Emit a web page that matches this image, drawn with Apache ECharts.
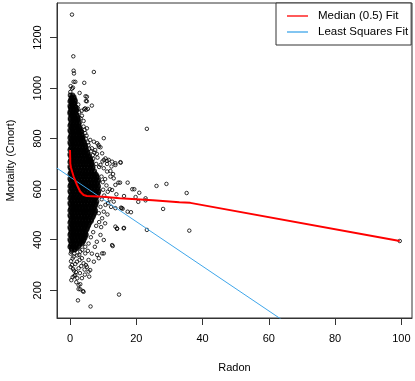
<!DOCTYPE html>
<html>
<head>
<meta charset="utf-8">
<script src="https://cdn.jsdelivr.net/npm/echarts@6/dist/echarts.min.js"></script>
<style>html,body{margin:0;padding:0;background:#fff}#c{width:415px;height:381px}</style>
</head>
<body>
<div id="c"></div>
<script>
// Dense core of the cloud: one mortality level per row, radon values read across it
const coreMort = [972,960,948,936,924,912,900,888,876,864,852,840,828,816,804,792,780,768,756,744,732,720,708,696,684,672,660,648,636,624,612,600,588,576,564,552,540,528,516,504,492,480,468,456,444,432,420,408,396,384,372,360];
const coreRadon = [
[0.1,0.8],[0.4,1.2],[0.0,0.8,1.6],[0.5,1.3],[0.1,0.9,1.8],[0.3,1.2,2.0],[0.0,0.8,1.7],[0.5,1.3,2.3],
[0.1,0.9,1.8,2.5],[0.4,1.2,2.1,2.8],[0.0,0.8,1.7,2.6],[0.5,1.3,2.2,3.0],[0.1,0.9,1.8,2.6,3.4],
[0.4,1.2,2.1,3.0,3.6],[0.0,0.8,1.7,2.5,3.3,3.9],[0.5,1.3,2.2,3.1,4.0],[0.1,0.9,1.8,2.6,3.5,4.4],
[0.4,1.2,2.1,3.0,3.9,4.7],[0.0,0.8,1.7,2.5,3.4,4.3,5.0],[0.5,1.3,2.2,3.1,4.0,4.8,5.4],
[0.1,0.9,1.8,2.6,3.5,4.4,5.2,5.8],[0.4,1.2,2.1,3.0,3.9,4.7,5.6,6.2],[0.0,0.8,1.7,2.5,3.4,4.3,5.1,6.0,6.6],
[0.5,1.3,2.2,3.1,4.0,4.8,5.7,6.5],[0.1,0.9,1.8,2.6,3.5,4.4,5.2,6.1,6.9],[0.4,1.2,2.1,3.0,3.9,4.7,5.6,6.5,7.4],
[0.0,0.8,1.7,2.5,3.4,4.3,5.1,6.0,6.9,7.8],[0.5,1.3,2.2,3.1,4.0,4.8,5.7,6.6,7.4,8.2],
[0.1,0.9,1.8,2.6,3.5,4.4,5.2,6.1,7.0,7.8,8.6],[0.4,1.2,2.1,3.0,3.9,4.7,5.6,6.5,7.3,8.2],
[0.0,0.8,1.7,2.5,3.4,4.3,5.1,6.0,6.9,7.7,8.6],[0.5,1.3,2.2,3.1,4.0,4.8,5.7,6.6,7.4,8.3],
[0.1,0.9,1.8,2.6,3.5,4.4,5.2,6.1,7.0,7.8,8.6],[0.4,1.2,2.1,3.0,3.9,4.7,5.6,6.5,7.3,8.2],
[0.0,0.8,1.7,2.5,3.4,4.3,5.1,6.0,6.9,7.7],[0.5,1.3,2.2,3.1,4.0,4.8,5.7,6.6,7.4,8.1],
[0.1,0.9,1.8,2.6,3.5,4.4,5.2,6.1,7.0,7.8],[0.4,1.2,2.1,3.0,3.9,4.7,5.6,6.5,7.3],
[0.0,0.8,1.7,2.5,3.4,4.3,5.1,6.0,6.9,7.7],[0.5,1.3,2.2,3.1,4.0,4.8,5.7,6.6,7.4],
[0.1,0.9,1.8,2.6,3.5,4.4,5.2,6.1,7.0],[0.4,1.2,2.1,3.0,3.9,4.7,5.6,6.5],
[0.0,0.8,1.7,2.5,3.4,4.3,5.1,6.0],[0.5,1.3,2.2,3.1,4.0,4.8,5.6],[0.1,0.9,1.8,2.6,3.5,4.4,5.2],
[0.4,1.2,2.1,3.0,3.9,4.7],[0.0,0.8,1.7,2.5,3.4,4.3,4.9],[0.5,1.3,2.2,3.1,4.0,4.5],
[0.1,0.9,1.8,2.6,3.5,4.1],[0.4,1.2,2.1,3.0,3.6],[0.0,0.8,1.7,2.6],[0.5,1.4]
];
// Second, in-between rows of the dense core
const coreMort2 = [966,954,942,930,918,906,894,882,870,858,846,834,822,810,798,786,774,762,750,738,726,714,702,690,678,666,654,642,630,618,606,594,582,570,558,546,534,522,510,498,486,474,462,450,438,426,414,402,390,378,366];
const coreRadon2 = [
[0.5,1.2],[0.2,0.9,1.5],[0.4,1.2],[0.0,0.7,1.5],[0.3,1.1,1.9],[0.0,0.8,1.6],[0.4,1.2,2.0],[0.1,0.9,1.7,2.4],
[0.5,1.3,2.2],[0.2,1.0,1.9,2.7],[0.4,1.2,2.1,2.9],[0.0,0.8,1.7,2.6,3.2],[0.5,1.3,2.2,3.0],
[0.2,1.0,1.9,2.8,3.6],[0.4,1.2,2.1,3.0,3.8],[0.0,0.8,1.7,2.6,3.5,4.2],[0.5,1.3,2.2,3.1,4.0,4.6],
[0.2,1.0,1.9,2.8,3.7,4.6],[0.4,1.2,2.1,3.0,3.9,4.8],[0.0,0.8,1.7,2.6,3.5,4.4,5.3],
[0.5,1.3,2.2,3.1,4.0,4.9,5.8],[0.2,1.0,1.9,2.8,3.7,4.6,5.5,6.3],[0.4,1.2,2.1,3.0,3.9,4.8,5.7,6.5],
[0.0,0.8,1.7,2.6,3.5,4.4,5.3,6.2,6.9],[0.5,1.3,2.2,3.1,4.0,4.9,5.8,6.7],[0.2,1.0,1.9,2.8,3.7,4.6,5.5,6.4,7.3],
[0.4,1.2,2.1,3.0,3.9,4.8,5.7,6.6,7.5,8.1],[0.0,0.8,1.7,2.6,3.5,4.4,5.3,6.2,7.1,8.0],
[0.5,1.3,2.2,3.1,4.0,4.9,5.8,6.7,7.6,8.5],[0.2,1.0,1.9,2.8,3.7,4.6,5.5,6.4,7.3,8.2],
[0.4,1.2,2.1,3.0,3.9,4.8,5.7,6.6,7.5,8.4],[0.0,0.8,1.7,2.6,3.5,4.4,5.3,6.2,7.1,8.0,8.7],
[0.5,1.3,2.2,3.1,4.0,4.9,5.8,6.7,7.6,8.4],[0.2,1.0,1.9,2.8,3.7,4.6,5.5,6.4,7.3,8.1],
[0.4,1.2,2.1,3.0,3.9,4.8,5.7,6.6,7.5],[0.0,0.8,1.7,2.6,3.5,4.4,5.3,6.2,7.1,7.9],
[0.5,1.3,2.2,3.1,4.0,4.9,5.8,6.7,7.6],[0.2,1.0,1.9,2.8,3.7,4.6,5.5,6.4,7.3],
[0.4,1.2,2.1,3.0,3.9,4.8,5.7,6.6,7.5],[0.0,0.8,1.7,2.6,3.5,4.4,5.3,6.2,7.1],
[0.5,1.3,2.2,3.1,4.0,4.9,5.8,6.7],[0.2,1.0,1.9,2.8,3.7,4.6,5.5,6.4],[0.4,1.2,2.1,3.0,3.9,4.8,5.7],
[0.0,0.8,1.7,2.6,3.5,4.4,5.3],[0.5,1.3,2.2,3.1,4.0,4.9],[0.2,1.0,1.9,2.8,3.7,4.6],
[0.4,1.2,2.1,3.0,3.9,4.6],[0.0,0.8,1.7,2.6,3.5,4.2],[0.5,1.3,2.2,3.1,3.8],[0.2,1.0,1.9,2.8],[0.4,1.2,2.1]
];
// Individually visible points around the core and outliers: [radon, mortality]
const fringe = [
[0.6,1291],[1.0,1126],[1.1,1069],[1.2,1058],[7.2,1064],[1.1,1025],[1.6,1025],[4.3,1021],[0.6,998],[0.1,985],
[2.9,981],[4.7,968],[0.6,961],[5.1,966],[4.8,949],[5.1,948],[0.3,945],[1.5,940],[6.6,931],[2.5,935],
[0.9,930],[0.1,925],[2.4,920],[4.6,920],[5.4,918],[4.3,917],[4.9,914],[3.5,910],[2.8,905],[3.6,891],
[3.2,880],[4.1,870],[4.1,848],[5.1,841],[3.6,828],[4.6,822],[4.4,835],[5.0,812],[10.2,802],[7.2,788],
[8.2,782],[5.6,775],[6.6,762],[7.6,755],[8.7,768],[6.1,795],[9.7,742],[10.7,722],[11.7,716],[8.6,775],
[9.2,766],[10.2,716],[11.2,712],[12.7,709],[13.7,696],[9.2,696],[10.2,683],[11.2,670],[15.2,707],[13.7,703],
[15.3,705],[12.2,672],[12.2,650],[13.2,643],[13.7,617],[12.7,597],[14.6,626],[15.1,626],[17.4,626],[18.8,600],
[19.4,600],[20.9,586],[16.3,573],[19.8,569],[22.8,564],[22.8,556],[20.6,550],[26.1,613],[29.1,621],[35.2,585],
[23.2,839],[28.1,522],[15.6,525],[15.9,523],[15.4,527],[17.4,511],[18.4,509],[10.7,538],[13.2,551],[13.7,525],
[10.2,511],[8.7,505],[9.7,485],[14.2,445],[12.7,379],[9.2,419],[10.2,399],[8.1,392],[9.7,346],[8.2,340],
[8.7,327],[16.3,447],[23.2,439],[36.0,436],[13.7,452],[14.2,443],[16.2,445],[12.9,375],[10.2,346],[7.2,313],
[1.6,360],[3.1,353],[4.6,346],[1.1,333],[3.6,327],[5.6,320],[2.1,313],[4.1,307],[0.6,300],[5.1,293],
[2.6,287],[6.1,280],[1.6,261],[5.6,274],[5.8,254],[3.6,248],[1.3,257],[2.6,221],[3.1,204],[3.1,224],
[2.6,205],[3.9,197],[4.1,194],[2.4,160],[6.2,136],[14.8,183],[99.5,395],
[9.5,650],[10.6,640],[9.9,628],[11.0,615],[10.0,598],[11.4,590],[10.3,575],[12.0,560],[9.6,560],[11.5,545],
[9.2,530],[8.8,470],[7.9,455],[7.0,430],[6.3,410],[5.6,385],[4.6,372],[7.5,372],[8.8,688],[7.9,700],
[8.3,725],[6.9,735],[7.4,745],[6.3,750],[5.8,760],[5.4,785],[4.8,800],[7.0,720],[12.5,690],[11.2,700],
[9.8,710],[8.1,740],[13.0,660],[14.0,580],[12.4,530],[11.3,500],[10.6,465],[9.4,450],[12.0,600],
[0.9,285],[1.8,272],[0.3,315],[4.8,300],[2.8,340],[0.2,345],[6.6,345],[0.4,240],[1.9,232],
[0.4,352],[1.3,346],[2.2,338],[0.8,326],[2.9,320],[1.6,304],[3.4,296],[0.2,292],[4.4,282],[1.2,278],
[3.0,268],[0.8,252],[4.5,262],[2.2,248],[0.6,372],[1.8,366],[3.7,360],[5.4,356],[0.2,1008],[0.9,1002]
];
// Median (0.5) fit
const medRadon = [0, 0.1, 0.3, 0.5, 1.1, 2.1, 3.1, 4.1, 5.1, 10, 15, 25, 33, 36.3, 99.5];
const medMort  = [755, 700, 685, 678, 650, 617, 590, 577, 573, 570, 564, 556, 548, 546, 395];
// Least squares fit (end points, clipped by the plot region)
const lsRadon = [-4, 64];
const lsMort  = [684, 83];
// Tick labels
const xTicks = [0, 20, 40, 60, 80, 100];
const yTicks = [200, 400, 600, 800, 1000, 1200];

const corePts = [];
coreMort.forEach((m, i) => coreRadon[i].forEach(r => corePts.push([r, m])));
coreMort2.forEach((m, i) => coreRadon2[i].forEach(r => corePts.push([r, m])));

const FONT = '"Liberation Sans", Arial, Helvetica, sans-serif';
const AX = '#333';
const chart = echarts.init(document.getElementById('c'), null, {renderer: 'canvas'});
chart.setOption({
  animation: false,
  backgroundColor: '#fff',
  textStyle: {fontFamily: FONT},
  grid: {left: 57, right: 3, top: 3, bottom: 63, show: true, borderColor: AX, borderWidth: 1,
         backgroundColor: 'transparent', containLabel: false, outerBoundsMode: 'none'},
  legend: {
    data: [{name: 'Median (0.5) Fit', icon: 'rect'}, {name: 'Least Squares Fit', icon: 'rect'}],
    orient: 'vertical', left: 276, top: 3,
    padding: [7, 3, 7, 11], itemGap: 4, itemWidth: 21, itemHeight: 1.3,
    borderColor: AX, borderWidth: 1, backgroundColor: '#fff',
    textStyle: {fontSize: 11.5, lineHeight: 12, color: '#000', fontFamily: FONT, padding: [0, 0, 0, 5]},
    selectedMode: false
  },
  xAxis: {
    type: 'value', min: -3.92, max: 103.2,
    name: 'Radon', nameLocation: 'middle', nameGap: 44,
    nameTextStyle: {fontSize: 11, color: '#000', fontFamily: FONT},
    axisLine: {show: true, onZero: false, lineStyle: {color: AX, width: 1}}, splitLine: {show: false},
    axisTick: {show: true, inside: false, length: 7, customValues: xTicks, lineStyle: {color: AX, width: 1}},
    axisLabel: {customValues: xTicks, margin: 15, fontSize: 11, color: '#000', fontFamily: FONT,
                formatter: v => String(v)}
  },
  yAxis: {
    type: 'value', min: 90.3, max: 1337,
    name: 'Mortality (Cmort)', nameLocation: 'middle', nameGap: 41, nameRotate: 90,
    nameTextStyle: {fontSize: 11, color: '#000', fontFamily: FONT},
    axisLine: {show: true, onZero: false, lineStyle: {color: AX, width: 1}}, splitLine: {show: false},
    axisTick: {show: true, inside: false, length: 7, customValues: yTicks, lineStyle: {color: AX, width: 1}},
    axisLabel: {customValues: yTicks, margin: 14, rotate: 90, fontSize: 11, color: '#000', fontFamily: FONT,
                formatter: v => String(v)}
  },
  series: [
    {type: 'scatter', name: 'core', data: corePts, symbol: 'circle', symbolSize: 3.5, silent: true,
     itemStyle: {color: 'rgba(0,0,0,0)', borderColor: '#000', borderWidth: 1.7}, z: 2},
    {type: 'scatter', name: 'points', data: fringe, symbol: 'circle', symbolSize: 3.5, silent: true,
     itemStyle: {color: 'rgba(0,0,0,0)', borderColor: '#000', borderWidth: 1}, z: 2},
    {type: 'line', name: 'Median (0.5) Fit', data: medRadon.map((r, i) => [r, medMort[i]]),
     symbol: 'none', clip: true, lineStyle: {color: '#ff0000', width: 2}, itemStyle: {color: '#ff0000'}, z: 4},
    {type: 'line', name: 'Least Squares Fit', data: lsRadon.map((r, i) => [r, lsMort[i]]),
     symbol: 'none', clip: true, lineStyle: {color: '#3fa6ea', width: 1}, itemStyle: {color: '#3fa6ea'}, z: 3}
  ]
});
</script>
</body>
</html>
